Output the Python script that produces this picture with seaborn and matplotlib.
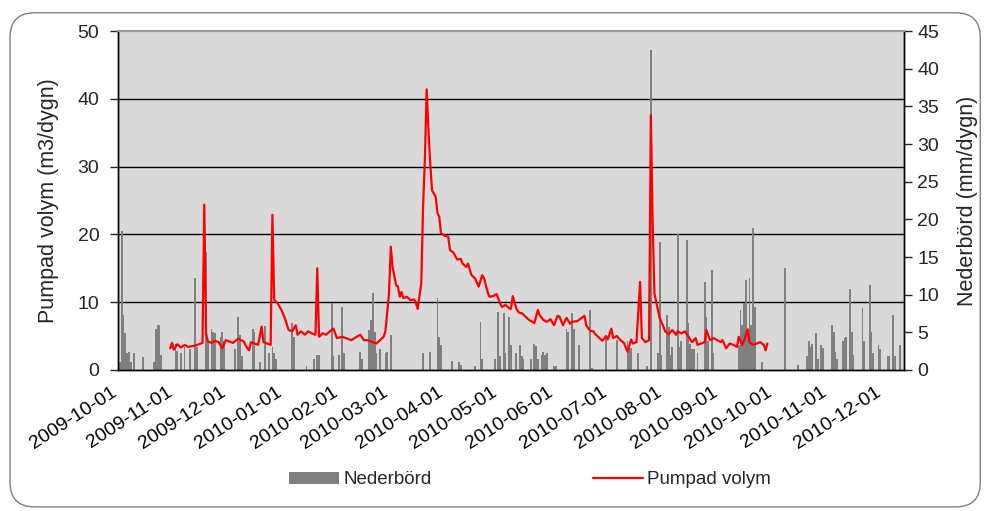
import pandas as pd
import numpy as np
import seaborn as sns
import matplotlib.pyplot as plt
import matplotlib.dates as mdates
from matplotlib.patches import FancyBboxPatch

# Data (days counted from 2009-10-01)

start_date = "2009-10-01"

pump_day = [28, 29, 30, 32, 34, 36, 38, 40, 42, 44, 46, 47, 48, 49, 51, 53, 55, 57, 59, 61,
            63, 66, 69, 71, 72, 73, 75, 77, 79, 80, 82, 84, 85, 86, 88, 90, 92, 94, 96, 98,
            99, 101, 103, 105, 107, 109, 110, 111, 113, 115, 117, 119, 121, 124, 126, 129, 132, 134, 136, 138,
            141, 143, 145, 147, 148, 150, 151, 152, 154, 155, 156, 157, 158, 160, 162, 164, 165, 166, 168, 169,
            170, 171, 172, 173, 174, 176, 177, 178, 179, 181, 183, 184, 186, 188, 190, 191, 193, 194, 196, 198,
            200, 202, 203, 205, 206, 208, 210, 212, 213, 215, 217, 218, 219, 221, 222, 223, 224, 226, 228, 230,
            231, 233, 234, 236, 238, 240, 242, 244, 245, 247, 249, 251, 252, 255, 257, 259, 260, 262, 264, 265,
            267, 269, 271, 272, 274, 275, 277, 279, 281, 283, 285, 286, 288, 290, 291, 293, 295, 296, 297, 298,
            300, 301, 303, 304, 306, 308, 310, 311, 313, 315, 317, 319, 321, 322, 324, 326, 327, 329, 331, 333,
            335, 336, 338, 340, 342, 344, 345, 347, 348, 350, 351, 353, 355, 357, 359, 360, 361]
pump_val = [3.2, 4.0, 3.0, 3.8, 3.3, 3.7, 3.4, 3.5, 3.6, 3.8, 4.0, 24.4, 5.4, 4.2, 4.0, 4.3, 4.1, 3.2, 4.4, 4.2,
            4.0, 4.6, 4.2, 3.2, 2.9, 4.1, 3.9, 3.7, 6.4, 4.1, 3.9, 3.7, 22.9, 10.3, 9.8, 8.85, 7.6, 5.9, 5.7, 6.6,
            5.2, 5.7, 5.2, 5.7, 5.4, 5.2, 15.0, 4.9, 5.4, 5.2, 5.7, 6.1, 4.7, 4.9, 4.7, 4.4, 4.9, 5.2, 4.4, 4.4,
            4.1, 3.9, 4.4, 4.9, 5.7, 11.3, 18.2, 15.2, 12.5, 12.3, 10.8, 11.5, 10.6, 10.8, 10.3, 10.4, 9.9, 9.0, 12.8, 24.1,
            31.0, 41.4, 35.4, 30.5, 26.5, 25.6, 23.2, 22.6, 20.2, 19.8, 19.7, 17.7, 17.3, 16.3, 16.4, 15.7, 15.2, 15.7, 14.0, 13.5,
            12.3, 14.0, 13.5, 11.5, 10.8, 10.9, 11.2, 9.8, 9.3, 9.6, 9.1, 9.0, 10.9, 9.1, 8.6, 8.4, 8.4, 7.9, 7.4, 7.1,
            6.9, 8.85, 8.1, 7.4, 7.1, 7.5, 6.6, 8.0, 7.9, 6.6, 7.7, 6.8, 7.1, 7.2, 7.6, 8.0, 6.6, 5.8, 5.7, 5.3,
            4.8, 4.3, 5.0, 4.5, 6.1, 4.7, 5.0, 4.4, 4.0, 2.7, 4.5, 3.9, 4.1, 13.0, 4.7, 4.1, 4.4, 37.6, 22.1, 11.3,
            8.85, 7.6, 6.4, 5.7, 5.3, 5.9, 5.2, 5.7, 5.4, 5.7, 4.9, 4.1, 4.7, 3.7, 3.9, 4.1, 5.9, 4.4, 4.7, 4.4,
            4.1, 4.4, 3.2, 3.9, 3.7, 3.4, 4.9, 3.7, 4.4, 6.0, 4.1, 3.7, 3.9, 4.1, 3.7, 2.9, 3.9]

rain_day = [0, 1, 2, 3, 4, 5, 6, 8, 13, 19, 20, 21, 22, 23, 31, 32, 34, 36, 39, 42,
            43, 48, 49, 51, 52, 53, 56, 57, 58, 64, 66, 67, 68, 74, 75, 78, 81, 83, 85, 86,
            87, 96, 97, 104, 108, 110, 111, 118, 119, 122, 124, 125, 134, 135, 139, 140, 141, 142, 143, 145,
            148, 149, 151, 169, 173, 177, 178, 179, 185, 189, 190, 198, 201, 202, 209, 211, 212, 214, 215, 217,
            218, 221, 223, 224, 225, 229, 231, 232, 233, 235, 236, 237, 238, 242, 243, 249, 250, 252, 253, 256,
            262, 263, 271, 277, 283, 284, 285, 289, 294, 296, 300, 301, 302, 305, 306, 307, 308, 311, 312, 313,
            316, 317, 318, 319, 320, 322, 326, 327, 328, 330, 331, 345, 346, 347, 348, 349, 350, 351, 352, 353,
            354, 358, 371, 378, 383, 384, 385, 386, 388, 389, 391, 392, 397, 398, 399, 400, 403, 404, 405, 407,
            408, 409, 414, 415, 418, 419, 420, 423, 424, 428, 429, 431, 432, 435]
rain_mm = [1.0, 18.4, 7.3, 4.9, 2.2, 2.4, 1.0, 2.2, 1.7, 1.0, 5.5, 6.0, 6.0, 2.0, 3.5, 2.5, 2.2, 3.0, 2.8, 12.2,
           3.0, 15.7, 4.0, 5.5, 5.0, 4.9, 4.4, 5.1, 3.9, 2.8, 7.1, 4.6, 1.9, 5.5, 5.0, 1.0, 5.8, 2.2, 3.1, 2.2,
           1.5, 6.2, 4.4, 0.5, 1.5, 2.0, 2.0, 8.9, 1.9, 2.0, 8.4, 2.2, 2.4, 1.5, 5.3, 6.6, 10.2, 5.1, 2.2, 2.8,
           2.2, 2.4, 4.6, 2.2, 2.4, 9.5, 4.4, 3.3, 1.2, 1.1, 0.6, 0.5, 6.4, 1.5, 1.5, 7.7, 1.9, 7.5, 2.2, 7.1,
           3.3, 2.2, 3.3, 1.9, 1.5, 1.5, 3.5, 3.2, 1.5, 2.0, 2.4, 2.0, 2.2, 0.5, 0.5, 5.5, 5.0, 7.5, 5.5, 3.3,
           8.0, 0.3, 4.4, 4.0, 3.8, 2.9, 2.9, 2.2, 0.5, 42.5, 2.2, 17.0, 2.0, 7.3, 5.7, 2.0, 3.0, 18.1, 3.1, 3.9,
           17.3, 6.2, 3.5, 2.8, 2.8, 2.2, 11.7, 7.1, 3.9, 13.3, 2.2, 3.3, 8.0, 6.0, 8.9, 12.0, 5.0, 12.2, 6.0, 18.8,
           8.4, 1.1, 13.5, 0.7, 1.9, 3.9, 3.0, 3.5, 4.9, 1.5, 3.3, 2.9, 6.0, 5.1, 2.4, 1.5, 3.9, 4.2, 4.4, 10.8,
           5.1, 2.0, 8.2, 3.9, 11.3, 5.1, 2.2, 3.3, 2.8, 1.9, 1.9, 7.3, 1.9, 3.3]

pump_ticks = [0, 10, 20, 30, 40, 50]
rain_ticks = [0, 5, 10, 15, 20, 25, 30, 35, 40, 45]

# Build the frames

t0 = pd.Timestamp(start_date)
pump = pd.DataFrame({"datum": t0 + pd.to_timedelta(pump_day, unit="D"), "volym": pump_val})
rain = pd.DataFrame({"datum": t0 + pd.to_timedelta(rain_day, unit="D"), "mm": rain_mm})

sns.set_style("white")
plt.rcParams["font.family"] = ["Liberation Sans", "DejaVu Sans"]
plt.rcParams["font.size"] = 14

fig = plt.figure(figsize=(9.85, 5.11), dpi=100)
ax = fig.add_axes([0.120, 0.276, 0.798, 0.663])
ax.set_facecolor("#d9d9d9")
ax2 = ax.twinx()

# precipitation bars on the host axes (right scale)
ax.bar(rain["datum"], rain["mm"], width=1.0, color="#808080", linewidth=0,
       label="Nederbörd", zorder=2)
ax.set_ylim(0, 45)
ax.set_yticks(rain_ticks)
ax.yaxis.tick_right()
ax.yaxis.set_label_position("right")
ax.set_ylabel("Nederbörd (mm/dygn)", fontsize=15.5)
ax.yaxis.set_label_coords(1.067, 0.5)

# horizontal gridlines follow the left (pump) scale
for t in pump_ticks[1:-1]:
    ax.axhline(t * 45 / 50, color="black", lw=1.0, zorder=1)

# pumped volume on the twin axes (left scale)
sns.lineplot(data=pump, x="datum", y="volym", ax=ax2, color="red", lw=1.6,
             label="Pumpad volym", legend=False)
ax2.set_ylim(0, 50)
ax2.set_yticks(pump_ticks)
ax2.yaxis.tick_left()
ax2.yaxis.set_label_position("left")
ax2.set_ylabel("Pumpad volym (m3/dygn)", fontsize=15.5)
ax2.yaxis.set_label_coords(-0.075, 0.5)
ax2.set_xlabel("")

ax.set_xlim(t0 - pd.Timedelta(days=1), t0 + pd.Timedelta(days=437.3))
ax.xaxis.set_major_locator(mdates.MonthLocator())
ax.xaxis.set_major_formatter(mdates.DateFormatter("%Y-%m-%d"))
ax.tick_params(axis="x", direction="out", length=6, width=1, colors="black", pad=4,
               labelsize=14)
for lab in ax.get_xticklabels():
    lab.set_rotation(33)
    lab.set_ha("right")
    lab.set_va("top")

ax.tick_params(axis="y", direction="out", length=6, width=1, pad=3.5, labelsize=14)
ax2.tick_params(axis="y", direction="out", length=6, width=1, pad=7.5, labelsize=14)

for a in (ax, ax2):
    for side in ("left", "right", "bottom"):
        a.spines[side].set_color("black")
        a.spines[side].set_linewidth(1.0)
    a.spines["top"].set_color("#9a9a9a")
    a.spines["top"].set_linewidth(1.5)

# legend under the chart
h1, l1 = ax.get_legend_handles_labels()
h2, l2 = ax2.get_legend_handles_labels()
fig.legend(h1 + h2, l1 + l2, loc="center", bbox_to_anchor=(0.538, 0.061), ncol=2,
           frameon=False, fontsize=13.5, handlelength=2.7, handleheight=0.62,
           columnspacing=8.6, handletextpad=0.2)

# rounded chart-area border
fig.patches.append(FancyBboxPatch((0.0102, 0.008), 0.985, 0.967,
                                  boxstyle="round,pad=0,rounding_size=0.025",
                                  mutation_aspect=985 / 511,
                                  transform=fig.transFigure, fc="none",
                                  ec="#7f7f7f", lw=1.0))

fig.savefig("out.png", dpi=100)
